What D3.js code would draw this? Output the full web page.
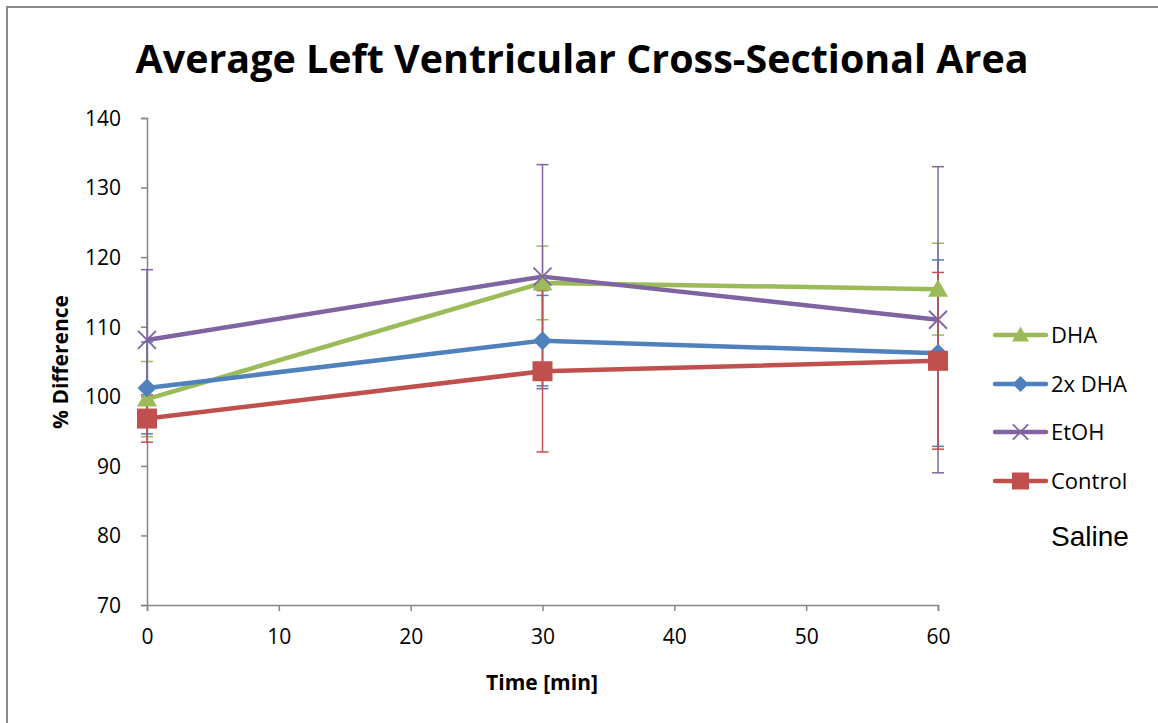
<!DOCTYPE html>
<html><head><meta charset="utf-8">
<script src="https://cdn.jsdelivr.net/npm/d3@7"></script>
<style>body{margin:0;background:#fff}svg{display:block}</style>
</head><body>
<script>
const times = [0, 30, 60];
const seriesNames = ["DHA", "2x DHA", "EtOH", "Control"];
const dhaValues = [99.6, 116.3, 115.4];
const dhaErrors = [5.4, 5.3, 6.6];
const dha2xValues = [101.2, 108.0, 106.2];
const dha2xErrors = [6.6, 6.5, 13.4];
const etohValues = [108.1, 117.2, 111.0];
const etohErrors = [10.1, 16.1, 22.0];
const controlValues = [96.8, 103.6, 105.1];
const controlErrors = [3.4, 11.6, 12.7];
const xTicks = [0, 10, 20, 30, 40, 50, 60];
const yTicks = [70, 80, 90, 100, 110, 120, 130, 140];

const colors = ["#9BBB59", "#4F81BD", "#8064A2", "#C0504D"];
const markers = ["triangle", "diamond", "x", "square"];
const series = [
  {name: seriesNames[0], values: dhaValues, errors: dhaErrors},
  {name: seriesNames[1], values: dha2xValues, errors: dha2xErrors},
  {name: seriesNames[2], values: etohValues, errors: etohErrors},
  {name: seriesNames[3], values: controlValues, errors: controlErrors}
].map((s, i) => ({...s, color: colors[i], marker: markers[i]}));

const W = 1158, H = 723;
const svg = d3.select("body").append("svg").attr("width", W).attr("height", H);
svg.append("rect").attr("x", 7).attr("y", 7).attr("width", W + 10).attr("height", H + 10)
  .attr("fill", "#fff").attr("stroke", "#898989").attr("stroke-width", 2);

const x = d3.scaleLinear().domain([0, 60]).range([147, 938]);
const y = d3.scaleLinear().domain([70, 140]).range([605, 118]);

const font = "Open Sans, Liberation Sans, sans-serif";
svg.append("text").attr("x", 582).attr("y", 73).attr("text-anchor", "middle")
  .attr("font-family", font).attr("font-weight", "bold").attr("font-size", 39)
  .attr("textLength", 893).attr("lengthAdjust", "spacingAndGlyphs")
  .text("Average Left Ventricular Cross-Sectional Area");

const axisColor = "#868686";
const gy = svg.append("g").attr("transform", "translate(147,0)")
  .call(d3.axisLeft(y).tickValues(yTicks).tickSize(6).tickPadding(20).tickFormat(d3.format("d")));
const gx = svg.append("g").attr("transform", "translate(0,605)")
  .call(d3.axisBottom(x).tickValues(xTicks).tickSize(6).tickPadding(18).tickFormat(d3.format("d")));
[gx, gy].forEach(g => {
  g.select(".domain").attr("stroke", axisColor).attr("stroke-width", 1.5);
  g.selectAll(".tick line").attr("stroke", axisColor).attr("stroke-width", 1.5);
  g.selectAll("text").attr("font-family", font).attr("font-size", 21).attr("fill", "#000");
});
gy.selectAll("text").attr("dy", "0.35em");

svg.append("text").attr("x", 542).attr("y", 690).attr("text-anchor", "middle")
  .attr("font-family", font).attr("font-weight", "bold").attr("font-size", 21).text("Time [min]");
svg.append("text").attr("transform", "translate(68,362) rotate(-90)").attr("text-anchor", "middle")
  .attr("font-family", font).attr("font-weight", "bold").attr("font-size", 21).text("% Difference");

const line = d3.line().x((d, i) => x(times[i])).y(d => y(d));
series.forEach(s => {
  svg.append("path").attr("d", line(s.values)).attr("fill", "none")
    .attr("stroke", s.color).attr("stroke-width", 4.5).attr("stroke-linejoin", "round");
});

series.forEach(s => {
  const g = svg.append("g").attr("stroke", s.color).attr("stroke-width", 1.5);
  s.values.forEach((v, i) => {
    const cx = x(times[i]);
    g.append("line").attr("x1", cx).attr("x2", cx).attr("y1", y(v - s.errors[i])).attr("y2", y(v + s.errors[i]));
    [v - s.errors[i], v + s.errors[i]].forEach(e => {
      g.append("line").attr("x1", cx - 6).attr("x2", cx + 6).attr("y1", y(e)).attr("y2", y(e));
    });
  });
});

function drawMarker(g, type, cx, cy, color, scale = 1) {
  if (type === "triangle") {
    const s = 10 * scale;
    g.append("path").attr("d", `M${cx},${cy - s}L${cx + s},${cy + s * 0.75}L${cx - s},${cy + s * 0.75}Z`).attr("fill", color);
  } else if (type === "diamond") {
    const s = 9.5 * scale;
    g.append("path").attr("d", `M${cx},${cy - s}L${cx + s},${cy}L${cx},${cy + s}L${cx - s},${cy}Z`).attr("fill", color);
  } else if (type === "square") {
    const s = 10 * scale;
    g.append("rect").attr("x", cx - s).attr("y", cy - s).attr("width", 2 * s).attr("height", 2 * s).attr("fill", color);
  } else {
    const s = 9 * scale;
    g.append("path").attr("d", `M${cx - s},${cy - s}L${cx + s},${cy + s}M${cx - s},${cy + s}L${cx + s},${cy - s}`)
      .attr("stroke", color).attr("stroke-width", 1.8).attr("fill", "none");
  }
}
series.forEach(s => {
  const g = svg.append("g");
  s.values.forEach((v, i) => drawMarker(g, s.marker, x(times[i]), y(v), s.color));
});

const legY = [335, 384, 432, 481];
series.forEach((s, i) => {
  const g = svg.append("g");
  g.append("line").attr("x1", 995).attr("x2", 1046).attr("y1", legY[i]).attr("y2", legY[i])
    .attr("stroke", s.color).attr("stroke-width", 4.5).attr("stroke-linecap", "round");
  drawMarker(g, s.marker, 1020.5, legY[i], s.color, 0.85);
  g.append("text").attr("x", 1051).attr("y", legY[i]).attr("dy", "0.35em")
    .attr("font-family", font).attr("font-size", 22).text(s.name);
});
svg.append("text").attr("x", 1051).attr("y", 546).attr("font-family", "Liberation Sans, Arial, sans-serif")
  .attr("font-size", 28).text("Saline");
</script>
</body></html>
